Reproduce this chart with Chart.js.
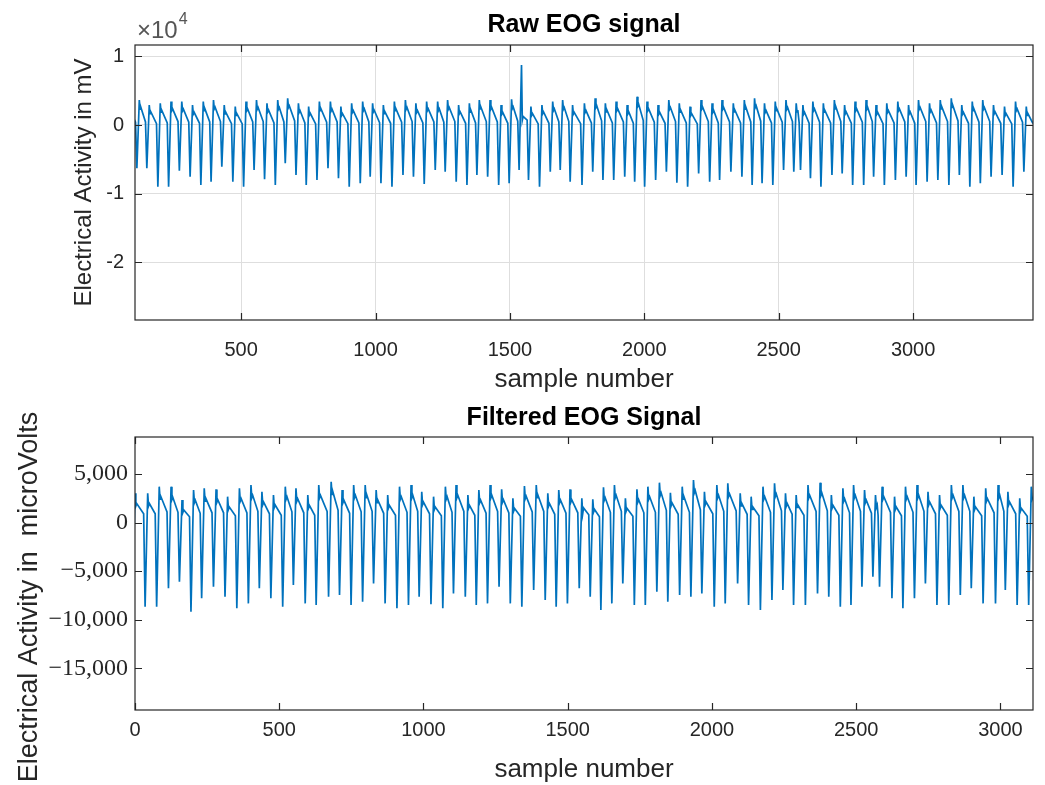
<!DOCTYPE html>
<html>
<head>
<meta charset="utf-8">
<title>EOG signal</title>
<script src="https://cdn.jsdelivr.net/npm/chart.js@4.4.1/dist/chart.umd.min.js"></script>
<style>
  body { margin: 0; background: #fff; }
  #wrap { position: relative; width: 1045px; height: 785px; }
  canvas { position: absolute; left: 0; }
</style>
</head>
<body>
<div id="wrap">
  <canvas id="rawChart" width="1045" height="395" style="top:0"></canvas>
  <canvas id="filtChart" width="1045" height="390" style="top:395px"></canvas>
</div>
<script>
// beats: trough sample, then trough / peak / notch / bump / tail values
const rawBeatAt = [72,
  112, 149, 190, 230, 270, 310, 350, 388, 428, 469,
  509, 548, 587, 627, 664, 704, 742, 782, 823, 862,
  902, 943, 980, 1020, 1061, 1102, 1141, 1181,
  1222, 1259, 1300, 1340, 1377, 1417, 1458, 1497, 1534, 1569,
  1610, 1650, 1687, 1724, 1768, 1808, 1846, 1886, 1927, 1964,
  2001, 2042, 2082, 2121, 2161, 2202, 2243, 2280, 2322,
  2363, 2401, 2438, 2478, 2518, 2556, 2581, 2618, 2657, 2698,
  2736, 2775, 2816, 2853, 2893, 2934, 2974, 3011, 3052, 3092,
  3133, 3172, 3211, 3250, 3290, 3331, 3372, 3412];
const rawTrough = [-7500,
  -6300, -6300, -8980, -8980, -6650, -7520, -8730, -8250, -6070, -8250,
  -8980, -6550, -7910, -8730, -5580, -7280, -8730, -8000, -6300, -7760,
  -8980, -8490, -7520, -8490, -8980, -7280, -7520, -8590,
  -6550, -6790, -8250, -8730, -7280, -7520, -8730, -8490, -6550, -8000,
  -8980, -6790, -6550, -8250, -8730, -6790, -8000, -8000, -7520, -8250,
  -8980, -8000, -6790, -8390, -8980, -7040, -8250, -8000, -6790,
  -7520, -8730, -8490, -8730, -6550, -6790, -6550, -7760, -8980, -7280,
  -7040, -8730, -8730, -7520, -8730, -8000, -7520, -8730, -8250, -8000,
  -8730, -7280, -8980, -8490, -7520, -7280, -8980, -6790];
const rawPeak = [3200,
  3640, 2910, 3150, 3400, 3400, 2910, 3400, 3640, 2910, 2670,
  3400, 3640, 3150, 3640, 3880, 3150, 2670, 3400, 3400, 2670,
  3150, 3400, 3150, 2910, 3400, 3640, 3150, 3400,
  3400, 3640, 2910, 3150, 3640, 3640, 2910, 3750, 8730, 2670,
  2910, 3400, 3640, 2910, 3150, 3880, 3150, 3400, 2910, 4120,
  3400, 2910, 3640, 3150, 2670, 3640, 3150, 3640, 3150,
  3640, 3880, 3150, 3400, 3640, 3150, 2910, 3400, 3150, 3640,
  2910, 3400, 3640, 2910, 3150, 3400, 2910, 3640, 3150, 3640,
  3880, 2910, 3400, 3640, 2910, 2670, 3400, 2670];
const rawNotch = [1900,
  2300, 1650, 1850, 2100, 2050, 1600, 2100, 2350, 1600, 1400,
  2100, 2300, 1900, 2300, 2550, 1850, 1450, 2100, 2050, 1400,
  1850, 2100, 1900, 1650, 2100, 2300, 1850, 2100,
  2100, 2300, 1650, 1850, 2350, 2300, 1600, 2400, 700, 1400,
  1650, 2100, 2300, 1600, 1850, 2550, 1900, 2100, 1650, 2750,
  2100, 1600, 2300, 1850, 1400, 2350, 1850, 2300, 1900,
  2300, 2550, 1850, 2100, 2300, 1900, 1600, 2100, 1850, 2350,
  1650, 2100, 2300, 1600, 1850, 2100, 1650, 2300, 1900, 2350,
  2550, 1600, 2100, 2300, 1650, 1400, 2100, 1400];
const rawBump = [2150,
  2550, 1900, 2100, 2350, 2300, 1850, 2350, 2600, 1850, 1650,
  2350, 2550, 2150, 2550, 2800, 2100, 1700, 2350, 2300, 1650,
  2100, 2350, 2150, 1900, 2350, 2550, 2100, 2350,
  2350, 2550, 1900, 2100, 2600, 2550, 1850, 2650, 1250, 1650,
  1900, 2350, 2550, 1850, 2100, 2800, 2150, 2350, 1900, 3000,
  2350, 1850, 2550, 2100, 1650, 2600, 2100, 2550, 2150,
  2550, 2800, 2100, 2350, 2550, 2150, 1850, 2350, 2100, 2600,
  1900, 2350, 2550, 1850, 2100, 2350, 1900, 2550, 2150, 2600,
  2800, 1850, 2350, 2550, 1900, 1650, 2350, 1650];
const rawTail = [400,
  450, 200, 300, 500, 400, 250, 450, 500, 200, 150,
  450, 500, 300, 450, 600, 300, 150, 400, 450, 200,
  300, 450, 350, 250, 400, 500, 300, 450,
  400, 500, 250, 300, 500, 450, 250, 550, 700, 150,
  250, 450, 500, 200, 300, 600, 300, 450, 250, 650,
  400, 250, 500, 300, 150, 500, 300, 450, 300,
  450, 550, 300, 400, 500, 300, 250, 400, 300, 500,
  250, 400, 500, 200, 300, 450, 250, 500, 300, 500,
  600, 250, 400, 500, 250, 150, 400, 200];

const filtBeatAt = [-9,
  35, 75, 116, 154, 194, 231, 272, 312, 353, 393,
  431, 471, 512, 549, 590, 628, 671, 709, 749, 789,
  827, 867, 908, 948, 985,
  1026, 1067, 1104, 1145, 1183, 1222, 1262, 1301, 1341, 1382,
  1422, 1460, 1499, 1540, 1578, 1615, 1653, 1691, 1731, 1769,
  1809, 1847, 1888, 1927, 1965, 2008, 2046,
  2089, 2127, 2168, 2208, 2246, 2283, 2324, 2366, 2405, 2445,
  2482, 2520, 2558, 2581, 2624, 2662, 2702, 2740, 2780, 2821,
  2861, 2899, 2940, 2983, 3017, 3058, 3098];
const filtTrough = [-8000,
  -8660, -8660, -6770, -6090, -9170, -7800, -6600, -7630, -8830, -8320,
  -6770, -7800, -8660, -6430, -8320, -8490, -7630, -7460, -8490, -8150,
  -6260, -8320, -8830, -8490, -7630,
  -8400, -8830, -7290, -7630, -8490, -8320, -6600, -8320, -8660, -6940,
  -7970, -8660, -8320, -6770, -7630, -9000, -8320, -6260, -8490, -8490,
  -7120, -8150, -7460, -7630, -7290, -8660, -8320,
  -6260, -8490, -9000, -7970, -6940, -8490, -8490, -7290, -7630, -8660,
  -8490, -6600, -5570, -6600, -7800, -8830, -7800, -6260, -8490, -8490,
  -7460, -6770, -8320, -8320, -6940, -8490, -8490];
const filtPeak = [3000,
  3000, 3690, 3690, 2320, 3340, 3520, 3410, 2660, 3520, 3860,
  3170, 2830, 3690, 3520, 2830, 3860, 4200, 3340, 3860, 3860,
  3340, 2830, 3690, 3860, 3170,
  2660, 3690, 3860, 2830, 3340, 3860, 3410, 2490, 3750, 3860,
  3000, 3340, 3410, 2490, 2390, 3620, 3860, 2490, 3410, 3690,
  4100, 3070, 3690, 4370, 3170, 3860, 4030,
  3000, 2660, 3690, 4030, 3000, 2830, 3860, 4100, 2830, 3520,
  3860, 3340, 2830, 3690, 2660, 3690, 3860, 3170, 2830, 3860,
  3860, 2660, 3520, 3860, 3170, 2490, 3690];
const filtNotch = [1700,
  1700, 2400, 2350, 1050, 2050, 2200, 2100, 1350, 2200, 2550,
  1850, 1550, 2400, 2200, 1500, 2550, 2900, 2050, 2550, 2550,
  2050, 1500, 2400, 2550, 1850,
  1350, 2400, 2550, 1500, 2050, 2550, 2100, 1200, 2450, 2550,
  1700, 2050, 2100, 900, 1100, 2300, 2550, 1200, 2100, 2400,
  2800, 1750, 2400, 3050, 1850, 2550, 2700,
  1700, 1350, 2400, 2700, 1700, 1550, 2550, 2800, 1500, 2200,
  2550, 2050, 1550, 2400, 1350, 2400, 2550, 1850, 1500, 2550,
  2550, 1350, 2200, 2550, 1850, 1200, 2400];
const filtBump = [1950,
  1950, 2650, 2600, 1300, 2300, 2450, 2350, 1600, 2450, 2800,
  2100, 1800, 2650, 2450, 1750, 2800, 3150, 2300, 2800, 2800,
  2300, 1750, 2650, 2800, 2100,
  1600, 2650, 2800, 1750, 2300, 2800, 2350, 1450, 2700, 2800,
  1950, 2300, 2350, 1500, 1350, 2550, 2800, 1450, 2350, 2650,
  3050, 2000, 2650, 3300, 2100, 2800, 2950,
  1950, 1600, 2650, 2950, 1950, 1800, 2800, 3050, 1750, 2450,
  2800, 2300, 1800, 2650, 1600, 2650, 2800, 2100, 1750, 2800,
  2800, 1600, 2450, 2800, 2100, 1450, 2650];
const filtTail = [900,
  900, 1100, 1050, 600, 950, 1000, 1000, 700, 1000, 1150,
  900, 750, 1100, 1000, 750, 1150, 1250, 950, 1100, 1150,
  950, 750, 1050, 1150, 900,
  700, 1050, 1150, 750, 950, 1150, 1000, 650, 1100, 1150,
  850, 950, 1000, 800, 600, 1050, 1150, 650, 1000, 1050,
  1250, 850, 1050, 1300, 900, 1150, 1200,
  850, 700, 1050, 1200, 850, 750, 1150, 1200, 750, 1000,
  1150, 950, 750, 1050, 700, 1050, 1150, 900, 750, 1150,
  1150, 700, 1000, 1150, 900, 650, 1050];

// where peak / notch / bump sit after each trough (samples)
const beatLags = [9, 12, 15];

const rawXTicks = [500, 1000, 1500, 2000, 2500, 3000];
const rawYTicks = [-20000, -10000, 0, 10000];
const filtXTicks = [0, 500, 1000, 1500, 2000, 2500, 3000];
const filtYTicks = [-15000, -10000, -5000, 0, 5000];

const SANS = '"Liberation Sans", Arial, Helvetica, sans-serif';
const SERIF = '"Liberation Serif", "Times New Roman", serif';
const AXIS_COLOR = '#262626';
const LINE_COLOR = '#0072bd';

Chart.defaults.font.family = SANS;
Chart.defaults.color = AXIS_COLOR;

function beatsToPoints(at, trough, peak, notch, bump, tail) {
  const pts = [];
  for (let i = 0; i < at.length; i++) {
    const t = at[i];
    const tailAt = i + 1 < at.length ? at[i + 1] - 5 : t + 34;
    pts.push({ x: t, y: trough[i] });
    pts.push({ x: t + beatLags[0], y: peak[i] });
    pts.push({ x: t + beatLags[1], y: notch[i] });
    pts.push({ x: t + beatLags[2], y: bump[i] });
    pts.push({ x: tailAt, y: tail[i] });
  }
  return pts;
}

// matlab style box with inward ticks on all four sides
const boxPlugin = {
  id: 'matlabBox',
  afterDatasetsDraw(chart) {
    const { ctx, chartArea: a, scales } = chart;
    const len = 7;
    ctx.save();
    ctx.strokeStyle = AXIS_COLOR;
    ctx.lineWidth = 1.2;
    ctx.beginPath();
    scales.x.ticks.forEach(t => {
      const px = Math.round(scales.x.getPixelForValue(t.value)) + 0.5;
      ctx.moveTo(px, a.bottom); ctx.lineTo(px, a.bottom - len);
      ctx.moveTo(px, a.top); ctx.lineTo(px, a.top + len);
    });
    scales.y.ticks.forEach(t => {
      const py = Math.round(scales.y.getPixelForValue(t.value)) + 0.5;
      ctx.moveTo(a.left, py); ctx.lineTo(a.left + len, py);
      ctx.moveTo(a.right, py); ctx.lineTo(a.right - len, py);
    });
    ctx.stroke();
    ctx.strokeRect(a.left, a.top, a.right - a.left, a.bottom - a.top);
    ctx.restore();
  }
};

// plot title centred over the axes box, like matlab does
const boxTitlePlugin = {
  id: 'boxTitle',
  afterDraw(chart, args, opts) {
    const { ctx, chartArea: a } = chart;
    ctx.save();
    ctx.fillStyle = '#000';
    ctx.font = 'bold 25px ' + SANS;
    ctx.textAlign = 'center';
    ctx.textBaseline = 'middle';
    ctx.fillText(opts.text, (a.left + a.right) / 2, opts.y);
    ctx.restore();
  }
};

const exponentPlugin = {
  id: 'exponent',
  afterDraw(chart) {
    const { ctx, chartArea: a } = chart;
    ctx.save();
    ctx.fillStyle = '#555';
    ctx.textBaseline = 'alphabetic';
    ctx.textAlign = 'left';
    ctx.font = '24px ' + SANS;
    ctx.fillText('\u00d710', a.left + 2, a.top - 7);
    const w = ctx.measureText('\u00d710').width;
    ctx.font = '16px ' + SANS;
    ctx.fillText('4', a.left + 3 + w, a.top - 21);
    ctx.restore();
  }
};

const sideTitlePlugin = {
  id: 'sideTitle',
  afterDraw(chart) {
    const ctx = chart.ctx;
    ctx.save();
    ctx.translate(30, 202);
    ctx.rotate(-Math.PI / 2);
    ctx.fillStyle = AXIS_COLOR;
    ctx.font = '27px ' + SANS;
    ctx.textAlign = 'center';
    ctx.textBaseline = 'middle';
    ctx.fillText('Electrical Activity in  microVolts', 0, 0);
    ctx.restore();
  }
};

function fixTicks(list) {
  return scale => { scale.ticks = list.map(v => ({ value: v })); };
}

new Chart(document.getElementById('rawChart'), {
  type: 'line',
  data: {
    datasets: [{
      data: beatsToPoints(rawBeatAt, rawTrough, rawPeak, rawNotch, rawBump, rawTail),
      borderColor: LINE_COLOR,
      borderWidth: 1.7,
      pointRadius: 0,
      tension: 0
    }]
  },
  options: {
    responsive: false,
    animation: false,
    layout: { padding: { left: 0, right: 12, top: 45, bottom: 0 } },
    plugins: {
      legend: { display: false },
      tooltip: { enabled: false },
      title: { display: false },
      boxTitle: { text: 'Raw EOG signal', y: 25 }
    },
    scales: {
      x: {
        type: 'linear',
        min: 105,
        max: 3446,
        afterBuildTicks: fixTicks(rawXTicks),
        afterFit: s => { s.height = 75; },
        grid: { color: '#dedede', drawTicks: false },
        border: { display: false },
        ticks: { padding: 18, font: { size: 20 }, maxRotation: 0, callback: v => String(v) },
        title: { display: true, text: 'sample number', font: { size: 26 }, padding: { top: 0, bottom: 0 } }
      },
      y: {
        min: -28380,
        max: 11640,
        afterBuildTicks: fixTicks(rawYTicks),
        afterFit: s => { s.width = 135; },
        grid: { color: '#dedede', drawTicks: false },
        border: { display: false },
        ticks: { padding: 11, font: { size: 20 }, callback: v => String(v / 10000) },
        title: { display: true, text: 'Electrical Activity in mV', font: { size: 24 }, padding: { top: 70, bottom: 0 } }
      }
    }
  },
  plugins: [boxPlugin, boxTitlePlugin, exponentPlugin]
});

new Chart(document.getElementById('filtChart'), {
  type: 'line',
  data: {
    datasets: [{
      data: beatsToPoints(filtBeatAt, filtTrough, filtPeak, filtNotch, filtBump, filtTail),
      borderColor: LINE_COLOR,
      borderWidth: 1.7,
      pointRadius: 0,
      tension: 0
    }]
  },
  options: {
    responsive: false,
    animation: false,
    layout: { padding: { left: 0, right: 12, top: 42, bottom: 0 } },
    plugins: {
      legend: { display: false },
      tooltip: { enabled: false },
      title: { display: false },
      boxTitle: { text: 'Filtered EOG Signal', y: 23 }
    },
    scales: {
      x: {
        type: 'linear',
        min: 0,
        max: 3113,
        afterBuildTicks: fixTicks(filtXTicks),
        afterFit: s => { s.height = 75; },
        grid: { display: false, drawTicks: false },
        border: { display: false },
        ticks: { padding: 8, font: { size: 20 }, maxRotation: 0, callback: v => String(v) },
        title: { display: true, text: 'sample number', font: { size: 26 }, padding: { top: 0, bottom: 0 } }
      },
      y: {
        min: -19290,
        max: 8800,
        afterBuildTicks: fixTicks(filtYTicks),
        afterFit: s => { s.width = 135; },
        grid: { display: false, drawTicks: false },
        border: { display: false },
        ticks: {
          padding: 7,
          font: { family: SERIF, size: 24 },
          callback: v => v === 0 ? '0' : (v < 0 ? '\u2212' : '') + Math.abs(v).toLocaleString('en-US')
        },
        title: { display: false }
      }
    }
  },
  plugins: [boxPlugin, boxTitlePlugin, sideTitlePlugin]
});
</script>
</body>
</html>
